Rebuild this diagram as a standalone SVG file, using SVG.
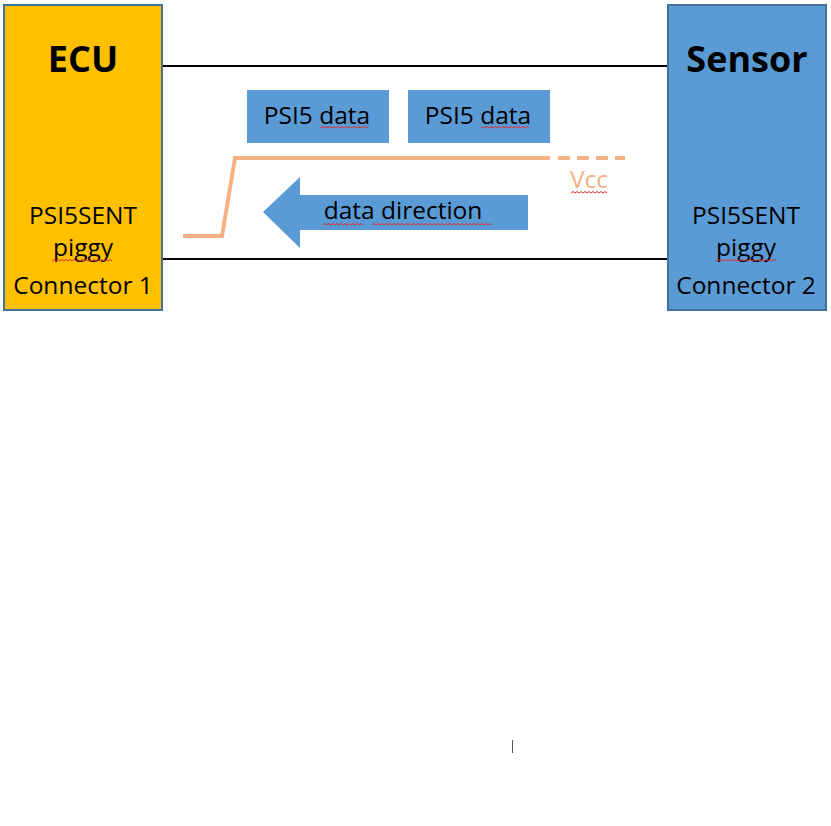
<svg xmlns="http://www.w3.org/2000/svg" width="831" height="826" viewBox="0 0 831 826">
<style>
.box{stroke:#41719C;stroke-width:2}
.t{font-family:"Open Sans","Liberation Sans",sans-serif;fill:#000}
.big{font-weight:bold;font-size:36px}
.lbl{font-size:24.5px}
.wire{stroke:#000;stroke-width:2;fill:none}
.vcc{stroke:#F4B183;stroke-width:4;fill:none}
.sq{stroke:#E03030;stroke-width:1;fill:none}
</style>
<rect width="831" height="826" fill="#fff"/>
<g id="connectors">
<line class="wire" x1="162" y1="66" x2="668" y2="66"/>
<line class="wire" x1="162" y1="259" x2="668" y2="259"/>
</g>
<g id="ecu">
<rect class="box" x="4" y="5" width="158" height="305" fill="#FFC000"/>
<text class="t big" x="83" y="72" text-anchor="middle">ECU</text>
<text class="t lbl" x="83" y="224" text-anchor="middle">PSI5SENT</text>
<text class="t lbl" x="83" y="256" text-anchor="middle">piggy</text>
<text class="t lbl" x="83" y="294" text-anchor="middle">Connector 1</text>
<path class="sq" d="M52 261 l2 -1.5 l2 1.5 l2 -1.5 l2 1.5 l2 -1.5 l2 1.5 l2 -1.5 l2 1.5 l2 -1.5 l2 1.5 l2 -1.5 l2 1.5 l2 -1.5 l2 1.5 l2 -1.5 l2 1.5 l2 -1.5 l2 1.5 l2 -1.5 l2 1.5 l2 -1.5 l2 1.5 l2 -1.5 l2 1.5 l2 -1.5 l2 1.5 l2 -1.5 l2 1.5 l2 -1.5 l2 1.5"/>
</g>
<g id="sensor">
<rect class="box" x="668" y="5" width="158" height="305" fill="#5B9BD5"/>
<text class="t big" x="747" y="72" text-anchor="middle">Sensor</text>
<text class="t lbl" x="746" y="224" text-anchor="middle">PSI5SENT</text>
<text class="t lbl" x="746" y="256" text-anchor="middle">piggy</text>
<text class="t lbl" x="746" y="294" text-anchor="middle">Connector 2</text>
<path class="sq" d="M716 261 l2 -1.5 l2 1.5 l2 -1.5 l2 1.5 l2 -1.5 l2 1.5 l2 -1.5 l2 1.5 l2 -1.5 l2 1.5 l2 -1.5 l2 1.5 l2 -1.5 l2 1.5 l2 -1.5 l2 1.5 l2 -1.5 l2 1.5 l2 -1.5 l2 1.5 l2 -1.5 l2 1.5 l2 -1.5 l2 1.5 l2 -1.5 l2 1.5 l2 -1.5 l2 1.5 l2 -1.5 l2 1.5"/>
</g>
<g id="psi5data1">
<rect x="247" y="90" width="142" height="53" fill="#5B9BD5"/>
<text class="t lbl" x="317" y="124" text-anchor="middle">PSI5 data</text>
<path class="sq" d="M320 128 l2 -1.5 l2 1.5 l2 -1.5 l2 1.5 l2 -1.5 l2 1.5 l2 -1.5 l2 1.5 l2 -1.5 l2 1.5 l2 -1.5 l2 1.5 l2 -1.5 l2 1.5 l2 -1.5 l2 1.5 l2 -1.5 l2 1.5 l2 -1.5 l2 1.5 l2 -1.5 l2 1.5 l2 -1.5 l2 1.5"/>
</g>
<g id="psi5data2">
<rect x="408" y="90" width="142" height="53" fill="#5B9BD5"/>
<text class="t lbl" x="478" y="124" text-anchor="middle">PSI5 data</text>
<path class="sq" d="M481 128 l2 -1.5 l2 1.5 l2 -1.5 l2 1.5 l2 -1.5 l2 1.5 l2 -1.5 l2 1.5 l2 -1.5 l2 1.5 l2 -1.5 l2 1.5 l2 -1.5 l2 1.5 l2 -1.5 l2 1.5 l2 -1.5 l2 1.5 l2 -1.5 l2 1.5 l2 -1.5 l2 1.5 l2 -1.5 l2 1.5"/>
</g>
<g id="vcc">
<path class="vcc" d="M183 236 H222 L235 158 H550"/>
<path class="vcc" d="M558 158 H625" stroke-dasharray="12,7"/>
<text class="t lbl" x="589" y="188" text-anchor="middle" style="fill:#F4B183">Vcc</text>
<path class="sq" d="M571 193 l2 -1.5 l2 1.5 l2 -1.5 l2 1.5 l2 -1.5 l2 1.5 l2 -1.5 l2 1.5 l2 -1.5 l2 1.5 l2 -1.5 l2 1.5 l2 -1.5 l2 1.5 l2 -1.5 l2 1.5 l2 -1.5 l2 1.5"/>
</g>
<g id="datadirection">
<path d="M263 212 L300 177 V195 H528 V230 H300 V248 Z" fill="#5B9BD5"/>
<text class="t lbl" x="403" y="219" text-anchor="middle">data direction</text>
<path class="sq" d="M323 225 l2 -1.5 l2 1.5 l2 -1.5 l2 1.5 l2 -1.5 l2 1.5 l2 -1.5 l2 1.5 l2 -1.5 l2 1.5 l2 -1.5 l2 1.5 l2 -1.5 l2 1.5 l2 -1.5 l2 1.5 l2 -1.5 l2 1.5 l2 -1.5 l2 1.5 M372 225 l2 -1.5 l2 1.5 l2 -1.5 l2 1.5 l2 -1.5 l2 1.5 l2 -1.5 l2 1.5 l2 -1.5 l2 1.5 l2 -1.5 l2 1.5 l2 -1.5 l2 1.5 l2 -1.5 l2 1.5 l2 -1.5 l2 1.5 l2 -1.5 l2 1.5 l2 -1.5 l2 1.5 l2 -1.5 l2 1.5 l2 -1.5 l2 1.5 l2 -1.5 l2 1.5 l2 -1.5 l2 1.5 l2 -1.5 l2 1.5 l2 -1.5 l2 1.5 l2 -1.5 l2 1.5 l2 -1.5 l2 1.5 l2 -1.5 l2 1.5 l2 -1.5 l2 1.5 l2 -1.5 l2 1.5 l2 -1.5 l2 1.5 l2 -1.5 l2 1.5 l2 -1.5 l2 1.5 l2 -1.5 l2 1.5 l2 -1.5 l2 1.5 l2 -1.5 l2 1.5 l2 -1.5 l2 1.5 l2 -1.5 l2 1.5"/>
</g>
<line x1="512.5" y1="740" x2="512.5" y2="753" stroke="#555" stroke-width="1"/>
</svg>
